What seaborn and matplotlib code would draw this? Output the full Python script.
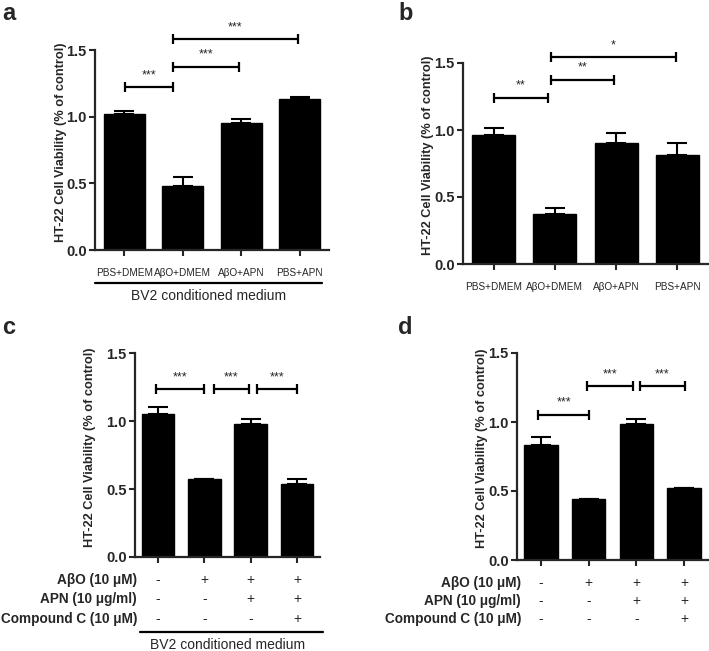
import matplotlib
matplotlib.use("Agg")
import matplotlib.pyplot as plt
import matplotlib.transforms as mtransforms
from matplotlib.ticker import FormatStrFormatter
import seaborn as sns
import pandas as pd

sns.set_style("ticks")
plt.rcParams['font.family'] = ['Liberation Sans', 'DejaVu Sans']

# ---------------- data ----------------
cats_ab = ["PBS+DMEM", "AβO+DMEM", "AβO+APN", "PBS+APN"]
a_mean = [1.02, 0.48, 0.955, 1.13]
a_err = [0.02, 0.07, 0.025, 0.02]
b_mean = [0.96, 0.37, 0.905, 0.815]
b_err = [0.055, 0.05, 0.075, 0.085]

groups_cd = ["G1", "G2", "G3", "G4"]
c_mean = [1.055, 0.57, 0.975, 0.54]
c_err = [0.045, 0.003, 0.04, 0.035]
d_mean = [0.83, 0.44, 0.985, 0.52]
d_err = [0.06, 0.003, 0.035, 0.003]

row_labels = ["AβO (10 μM)", "APN (10 μg/ml)", "Compound C (10 μM)"]
row_abo = ["-", "+", "+", "+"]
row_apn = ["-", "-", "+", "+"]
row_cc = ["-", "-", "-", "+"]

# brackets: (x_start, x_end, y, label)
a_brackets = [(0.02, 0.83, 1.22, "***"), (0.83, 1.97, 1.375, "***"), (0.83, 2.97, 1.58, "***")]
b_brackets = [(0.0, 0.89, 1.24, "**"), (0.93, 1.96, 1.376, "**"), (0.93, 2.97, 1.545, "*")]
c_brackets = [(-0.04, 1.0, 1.232, "***"), (1.2, 1.97, 1.232, "***"), (2.13, 3.0, 1.232, "***")]
d_brackets = [(-0.05, 1.0, 1.053, "***"), (0.97, 1.93, 1.258, "***"), (2.08, 3.01, 1.258, "***")]

ylabel = "HT-22 Cell Viability (% of control)"

W, H = 709, 651
fig = plt.figure(figsize=(W / 100, H / 100), dpi=100)


def axes_px(left, right, top, bottom):
    return fig.add_axes([left / W, 1 - bottom / H, (right - left) / W, (bottom - top) / H])


def draw_panel(ax, cats, means, errs, brackets, show_xlabels, label_off_px):
    df = pd.DataFrame({"cat": cats, "val": means})
    sns.barplot(data=df, x="cat", y="val", color="black", width=0.7,
                errorbar=None, ax=ax, saturation=1, edgecolor="black")
    xs = list(range(len(cats)))
    ax.errorbar(xs, means, yerr=[[0] * len(errs), errs], fmt="none", ecolor="black",
                elinewidth=1.5, capsize=7, capthick=1.5)
    ax.set_xlim(-0.5, 3.5)
    ax.set_ylim(0, 1.5)
    ax.set_yticks([0, 0.5, 1.0, 1.5])
    ax.yaxis.set_major_formatter(FormatStrFormatter("%.1f"))
    for lbl in ax.get_yticklabels():
        lbl.set_fontweight("bold")
        lbl.set_fontsize(10.5)
    ax.tick_params(axis="y", length=4, width=1.5, pad=2)
    ax.tick_params(axis="x", length=4, width=1.5, pad=9, labelsize=7.2)
    if not show_xlabels:
        ax.set_xticklabels([])
    ax.set_xlabel("")
    ax.set_ylabel(ylabel, fontsize=9.2, fontweight="bold")
    bbox = ax.get_position()
    width_px = bbox.width * W
    ax.yaxis.set_label_coords(-label_off_px / width_px, 0.54)
    sns.despine(ax=ax)
    for s in ["left", "bottom"]:
        ax.spines[s].set_linewidth(1.6)
    for x1, x2, y, lab in brackets:
        ax.plot([x1, x2], [y, y], color="black", lw=1.6, marker="|", markersize=7,
                mew=1.6, clip_on=False)
        ax.text((x1 + x2) / 2, y + 0.045, lab, ha="center", va="bottom", fontsize=9,
                clip_on=False)


def draw_table(ax, label_right_px, rows_y_px):
    trans = mtransforms.blended_transform_factory(ax.transData, fig.transFigure)
    for lab, vals, ypx in zip(row_labels, [row_abo, row_apn, row_cc], rows_y_px):
        fig.text(label_right_px / W, 1 - ypx / H, lab, ha="right", va="center",
                 fontsize=9.8, fontweight="bold")
        for i, v in enumerate(vals):
            ax.text(i, 1 - ypx / H, v, transform=trans, ha="center", va="center",
                    fontsize=10)


# panel a
ax_a = axes_px(95, 329, 50, 250)
draw_panel(ax_a, cats_ab, a_mean, a_err, a_brackets, True, 28)
fig.add_artist(plt.Line2D([95 / W, 322 / W], [1 - 283 / H, 1 - 283 / H], color="black", lw=1.6))
fig.text(209 / W, 1 - 296 / H, "BV2 conditioned medium", ha="center", va="center", fontsize=10)

# panel b
ax_b = axes_px(463, 708, 63, 264)
draw_panel(ax_b, cats_ab, b_mean, b_err, b_brackets, True, 29)

# panel c
ax_c = axes_px(135, 320, 353, 557)
draw_panel(ax_c, groups_cd, c_mean, c_err, c_brackets, False, 39)
draw_table(ax_c, 137, [580, 599, 619])
fig.add_artist(plt.Line2D([140 / W, 323 / W], [1 - 632 / H, 1 - 632 / H], color="black", lw=1.6))
fig.text(228 / W, 1 - 645 / H, "BV2 conditioned medium", ha="center", va="center", fontsize=10)

# panel d
ax_d = axes_px(517, 708, 353, 560)
draw_panel(ax_d, groups_cd, d_mean, d_err, d_brackets, False, 29)
draw_table(ax_d, 521, [583, 601, 619])

# panel letters
for letter, xpx, ypx in [("a", 2, 14), ("b", 398, 14), ("c", 2, 327), ("d", 398, 327)]:
    fig.text(xpx / W, 1 - ypx / H, letter, ha="left", va="center", fontsize=17,
             fontweight="bold")

fig.savefig("out.png", dpi=100)
